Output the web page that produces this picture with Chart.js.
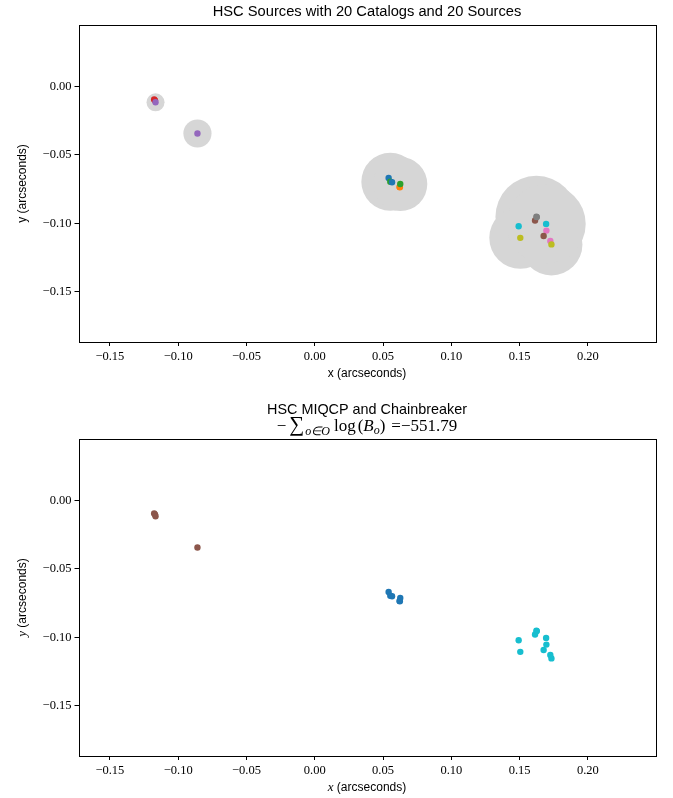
<!DOCTYPE html>
<html>
<head>
<meta charset="utf-8">
<title>HSC sources</title>
<script src="https://cdn.jsdelivr.net/npm/chart.js@4.4.1/dist/chart.umd.min.js"></script>
<style>
    body { margin: 0; background: #fff; }
    #wrap { position: relative; width: 673px; height: 798px; }
    #topBox { position: absolute; left: 0; top: 0; width: 673px; height: 392px; }
    #bottomBox { position: absolute; left: 0; top: 396px; width: 673px; height: 402px; }
</style>
</head>
<body>
<div id="wrap">
    <div id="topBox"><canvas id="catalogChart" width="673" height="392"></canvas></div>
    <div id="bottomBox"><canvas id="chainChart" width="673" height="402"></canvas></div>
</div>
<script>
// Detections, one per catalog (catalog i is drawn with tab10 colour i % 10)
const srcX = [0.0541, 0.0621, 0.0553, -0.1176, -0.0859, 0.1613, 0.1696, 0.1623, 0.1505, 0.1493,
              0.0566, 0.0623, 0.0626, -0.1170, -0.1166, 0.1676, 0.1725, 0.1626, 0.1733, 0.1694];
const srcY = [-0.0668, -0.0734, -0.0696, -0.0094, -0.0343, -0.0980, -0.1054, -0.0953, -0.1107, -0.1022,
              -0.0700, -0.0737, -0.0713, -0.0100, -0.0114, -0.1094, -0.1130, -0.0955, -0.1155, -0.1005];
// Positional uncertainty of each detection (arcseconds)
const sigma = [0.004, 0.004, 0.0212, 0.003, 0.0103, 0.004, 0.004, 0.030, 0.0227, 0.004,
               0.004, 0.004, 0.0198, 0.003, 0.0066, 0.004, 0.004, 0.004, 0.0227, 0.029];
// Source each detection was assigned to by the solver (tab10 colour index of that source)
const chainSource = [0, 0, 0, 5, 5, 9, 9, 9, 9, 9,
                     0, 0, 0, 5, 5, 9, 9, 9, 9, 9];

const xTicks = [-0.15, -0.10, -0.05, 0.00, 0.05, 0.10, 0.15, 0.20];
const yTicks = [0.00, -0.05, -0.10, -0.15];
const xRange = [-0.173, 0.2495];
const yRange = [-0.187, 0.0452];

const tab10 = ['#1f77b4', '#ff7f0e', '#2ca02c', '#d62728', '#9467bd',
               '#8c564b', '#e377c2', '#7f7f7f', '#bcbd22', '#17becf'];

const SANS = '"Liberation Sans", Arial, sans-serif';
const SERIF = '"Liberation Serif", "Times New Roman", serif';

const points = srcX.map((x, i) => ({ x: x, y: srcY[i] }));

// Tick labels with a real minus sign
function fmtTick(v) {
    return (v < -1e-9 ? '\u2212' : '') + Math.abs(v).toFixed(2);
}

// Convert a length in arcseconds to pixels along the x scale
function sigmaPx(chart, r) {
    const x = chart.scales.x;
    return Math.abs(x.getPixelForValue(r) - x.getPixelForValue(0));
}

function axisOptions(range, ticks, fitFn) {
    return {
        type: 'linear',
        min: range[0],
        max: range[1],
        afterBuildTicks: s => { s.ticks = ticks.map(v => ({ value: v })); },
        afterFit: fitFn,
        ticks: {
            callback: fmtTick,
            font: { family: SERIF, size: 12.5 },
            color: '#000',
            padding: 3,
            maxRotation: 0,
            autoSkip: false
        },
        grid: { drawOnChartArea: false, drawTicks: true, tickLength: 4, color: '#000', lineWidth: 1 },
        border: { display: false }
    };
}

// Draw a row of text pieces with mixed fonts, centred on cx
function drawRuns(ctx, runs, cx, baseline) {
    let total = 0;
    runs.forEach(r => { ctx.font = r.font; r.w = ctx.measureText(r.t).width + (r.gap || 0); total += r.w; });
    let x = cx - total / 2;
    ctx.textAlign = 'left';
    ctx.textBaseline = 'alphabetic';
    runs.forEach(r => {
        ctx.font = r.font;
        ctx.fillText(r.t, x, baseline + (r.dy || 0));
        x += r.w;
    });
}

// Frame, titles and axis labels
const decor = {
    id: 'decor',
    afterDraw(chart, args, opts) {
        const { ctx, chartArea: a } = chart;
        const cx = (a.left + a.right) / 2;
        ctx.save();
        ctx.strokeStyle = '#000';
        ctx.lineWidth = 1;
        ctx.strokeRect(Math.round(a.left) + 0.5, Math.round(a.top) + 0.5,
                       Math.round(a.right - a.left), Math.round(a.bottom - a.top));
        ctx.fillStyle = '#000';
        opts.titles.forEach(t => drawRuns(ctx, t.runs, cx, a.top - t.above));
        drawRuns(ctx, opts.xLabel, cx, a.bottom + 35);
        ctx.translate(26, (a.top + a.bottom) / 2);
        ctx.rotate(-Math.PI / 2);
        drawRuns(ctx, opts.yLabel, 0, 0);
        ctx.restore();
    }
};

function scatterOptions(padTop, xHeight, decorOpts) {
    return {
        responsive: false,
        animation: false,
        layout: { padding: { top: padTop, right: 17.5, left: 0, bottom: 0 } },
        scales: {
            x: axisOptions(xRange, xTicks, s => { s.height = xHeight; }),
            y: axisOptions(yRange, yTicks, s => { s.width = 78.5; })
        },
        plugins: {
            legend: { display: false },
            tooltip: { enabled: false },
            decor: decorOpts
        }
    };
}

// Detections coloured by catalog, with their uncertainty discs
new Chart(document.getElementById('catalogChart'), {
    type: 'scatter',
    data: {
        datasets: [
            {
                data: points,
                pointRadius: ctx => sigmaPx(ctx.chart, sigma[ctx.dataIndex]),
                pointBackgroundColor: '#d6d6d6',
                pointBorderWidth: 0,
                order: 2
            },
            {
                data: points,
                pointRadius: 3.2,
                pointBackgroundColor: points.map((p, i) => tab10[i % 10]),
                pointBorderWidth: 0,
                order: 1
            }
        ]
    },
    options: scatterOptions(25, 50, {
        titles: [{ above: 9, runs: [{ t: 'HSC Sources with 20 Catalogs and 20 Sources', font: '14.7px ' + SANS }] }],
        xLabel: [{ t: 'x (arcseconds)', font: '12px ' + SANS }],
        yLabel: [{ t: 'y (arcseconds)', font: '12px ' + SANS }]
    }),
    plugins: [decor]
});

// Detections coloured by the source they were matched to
const mathFont = '17px ' + SERIF;
const mathItalic = 'italic 17px ' + SERIF;
const subItalic = 'italic 12px ' + SERIF;

new Chart(document.getElementById('chainChart'), {
    type: 'scatter',
    data: {
        datasets: [
            {
                data: points,
                pointRadius: 3.2,
                pointBackgroundColor: chainSource.map(c => tab10[c]),
                pointBorderWidth: 0
            }
        ]
    },
    options: scatterOptions(43, 42, {
        titles: [
            { above: 25, runs: [{ t: 'HSC MIQCP and Chainbreaker', font: '14.4px ' + SANS }] },
            { above: 8, runs: [
                { t: '\u2212', font: mathFont, gap: 3 },
                { t: '\u2211', font: '21px ' + SERIF, gap: 1 },
                { t: 'o\u2208O', font: subItalic, dy: 4, gap: 4 },
                { t: 'log', font: mathFont, gap: 2 },
                { t: '(', font: mathFont },
                { t: 'B', font: mathItalic },
                { t: 'o', font: subItalic, dy: 3 },
                { t: ')', font: mathFont, gap: 6 },
                { t: '=\u2212551.79', font: mathFont }
            ] }
        ],
        xLabel: [{ t: 'x', font: 'italic 13px ' + SERIF }, { t: ' (arcseconds)', font: '12px ' + SANS }],
        yLabel: [{ t: 'y', font: 'italic 13px ' + SERIF }, { t: ' (arcseconds)', font: '12px ' + SANS }]
    }),
    plugins: [decor]
});
</script>
</body>
</html>
